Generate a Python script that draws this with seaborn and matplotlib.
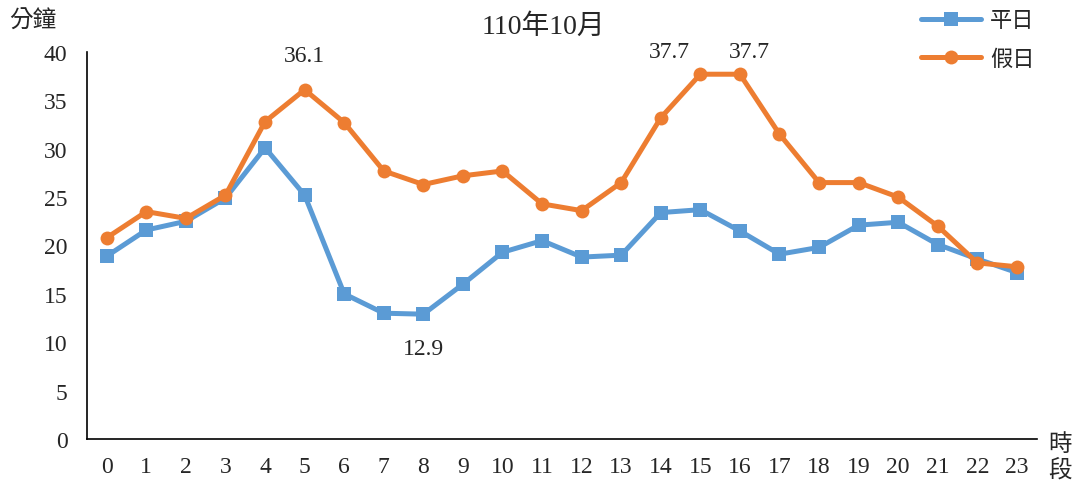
import pandas as pd
import matplotlib
matplotlib.use('Agg')
import matplotlib.pyplot as plt
import seaborn as sns

# Data
hours = list(range(24))
weekday = [18.9, 21.6, 22.5, 24.9, 30.1, 25.2, 15.0, 13.0, 12.9, 16.0, 19.3, 20.5,
           18.8, 19.0, 23.4, 23.7, 21.5, 19.1, 19.8, 22.1, 22.4, 20.1, 18.6, 17.2]
holiday = [20.8, 23.5, 22.8, 25.2, 32.8, 36.1, 32.7, 27.7, 26.3, 27.2, 27.7, 24.3,
           23.6, 26.5, 33.2, 37.7, 37.7, 31.5, 26.5, 26.5, 25.0, 22.0, 18.2, 17.8]
series_names = ['平日', '假日']

sns.set_style('white')
plt.rcParams['font.family'] = ['Liberation Serif', 'Noto Sans CJK TC']

df = pd.DataFrame({'hour': hours, '平日': weekday, '假日': holiday})

fig = plt.figure(figsize=(10.78, 4.85), dpi=100)
ax = fig.add_axes([0.0807, 0.0928, 0.881, 0.798])

sns.lineplot(data=df, x='hour', y='平日', ax=ax, color='#5B9BD5', linewidth=3.6,
             marker='s', markersize=10, markeredgewidth=0, label='平日')
sns.lineplot(data=df, x='hour', y='假日', ax=ax, color='#ED7D31', linewidth=3.6,
             marker='o', markersize=10, markeredgewidth=0, label='假日')

ax.set_xlim(-0.5, 23.5)
ax.set_ylim(0, 40)
ax.set_xticks(hours)
ax.set_yticks(range(0, 41, 5))
ax.tick_params(axis='y', direction='in', length=5, width=1.2, labelsize=17, pad=14)
ax.tick_params(axis='x', length=0, labelsize=17, pad=12)
ax.set_xlabel('')
ax.set_ylabel('')
for side in ['top', 'right']:
    ax.spines[side].set_visible(False)
for side in ['left', 'bottom']:
    ax.spines[side].set_color('black')
    ax.spines[side].set_linewidth(1.2)

# Value annotations
ax.annotate(f'{holiday[5]}', (5, holiday[5]), xytext=(0, 17), textcoords='offset points',
            ha='center', va='bottom', fontsize=17)
ax.annotate(f'{holiday[15]}', (15, holiday[15]), xytext=(-22, 9), textcoords='offset points',
            ha='center', va='bottom', fontsize=17)
ax.annotate(f'{holiday[16]}', (16, holiday[16]), xytext=(7, 9), textcoords='offset points',
            ha='center', va='bottom', fontsize=17)
ax.annotate(f'{weekday[8]}', (8, weekday[8]), xytext=(0, -17), textcoords='offset points',
            ha='center', va='top', fontsize=17)

fig.text(0.504, 0.945, '110年10月', ha='center', va='center', fontsize=20)
fig.text(0.030, 0.955, '分鐘', ha='center', va='center', fontsize=17)
fig.text(0.983, 0.082, '時', ha='center', va='center', fontsize=17)
fig.text(0.983, 0.030, '段', ha='center', va='center', fontsize=17)

ax.legend(loc='upper left', bbox_to_anchor=(0.857, 1.158), frameon=False, fontsize=16,
          handlelength=2.7, labelspacing=0.8, handletextpad=0.4)

fig.savefig('out.png', dpi=100)
plt.close('all')
